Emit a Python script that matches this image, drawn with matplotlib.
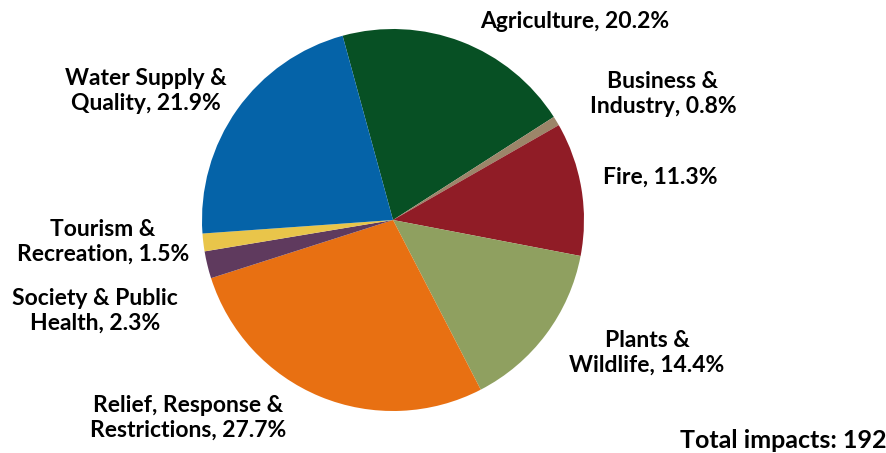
import matplotlib
matplotlib.use('Agg')
import matplotlib.pyplot as plt

categories = ['Agriculture', 'Business &\nIndustry', 'Fire', 'Plants &\nWildlife',
              'Relief, Response &\nRestrictions', 'Society & Public\nHealth',
              'Tourism &\nRecreation', 'Water Supply &\nQuality']
shares = [20.2, 0.8, 11.3, 14.4, 27.7, 2.3, 1.5, 21.9]
colors = ['#075024', '#9c8569', '#901c26', '#8fa060',
          '#e87012', '#5f3a5e', '#e9c54a', '#0563a8']
total_impacts = 192

W, H = 886, 453
fig = plt.figure(figsize=(W / 100, H / 100), dpi=100)
plt.rcParams['font.family'] = ['Lato', 'DejaVu Sans']

# pie centre and radius in pixels
cx, cy, r = 393, 220, 191
ax = fig.add_axes([(cx - r) / W, (H - cy - r) / H, 2 * r / W, 2 * r / H])
ax.pie(shares, colors=colors, startangle=105.3, counterclock=False, radius=1,
       wedgeprops=dict(linewidth=0))
ax.set_xlim(-1, 1)
ax.set_ylim(-1, 1)
ax.set_aspect('equal')
ax.axis('off')

# label centres in pixels (x, y from top)
label_pos = [(575, 22), (663, 94), (660, 177), (647, 353),
             (188, 418), (95, 311), (103, 242), (146, 91)]
for name, val, (lx, ly) in zip(categories, shares, label_pos):
    fig.text(lx / W, 1 - ly / H, f'{name}, {val}%', ha='center', va='center',
             fontsize=16.5, fontweight='bold', linespacing=1.2)

fig.text(886 / W, 1 - 441 / H, f'Total impacts: {total_impacts}', ha='right',
         va='center', fontsize=18, fontweight='bold')

fig.savefig('out.png', dpi=100)
